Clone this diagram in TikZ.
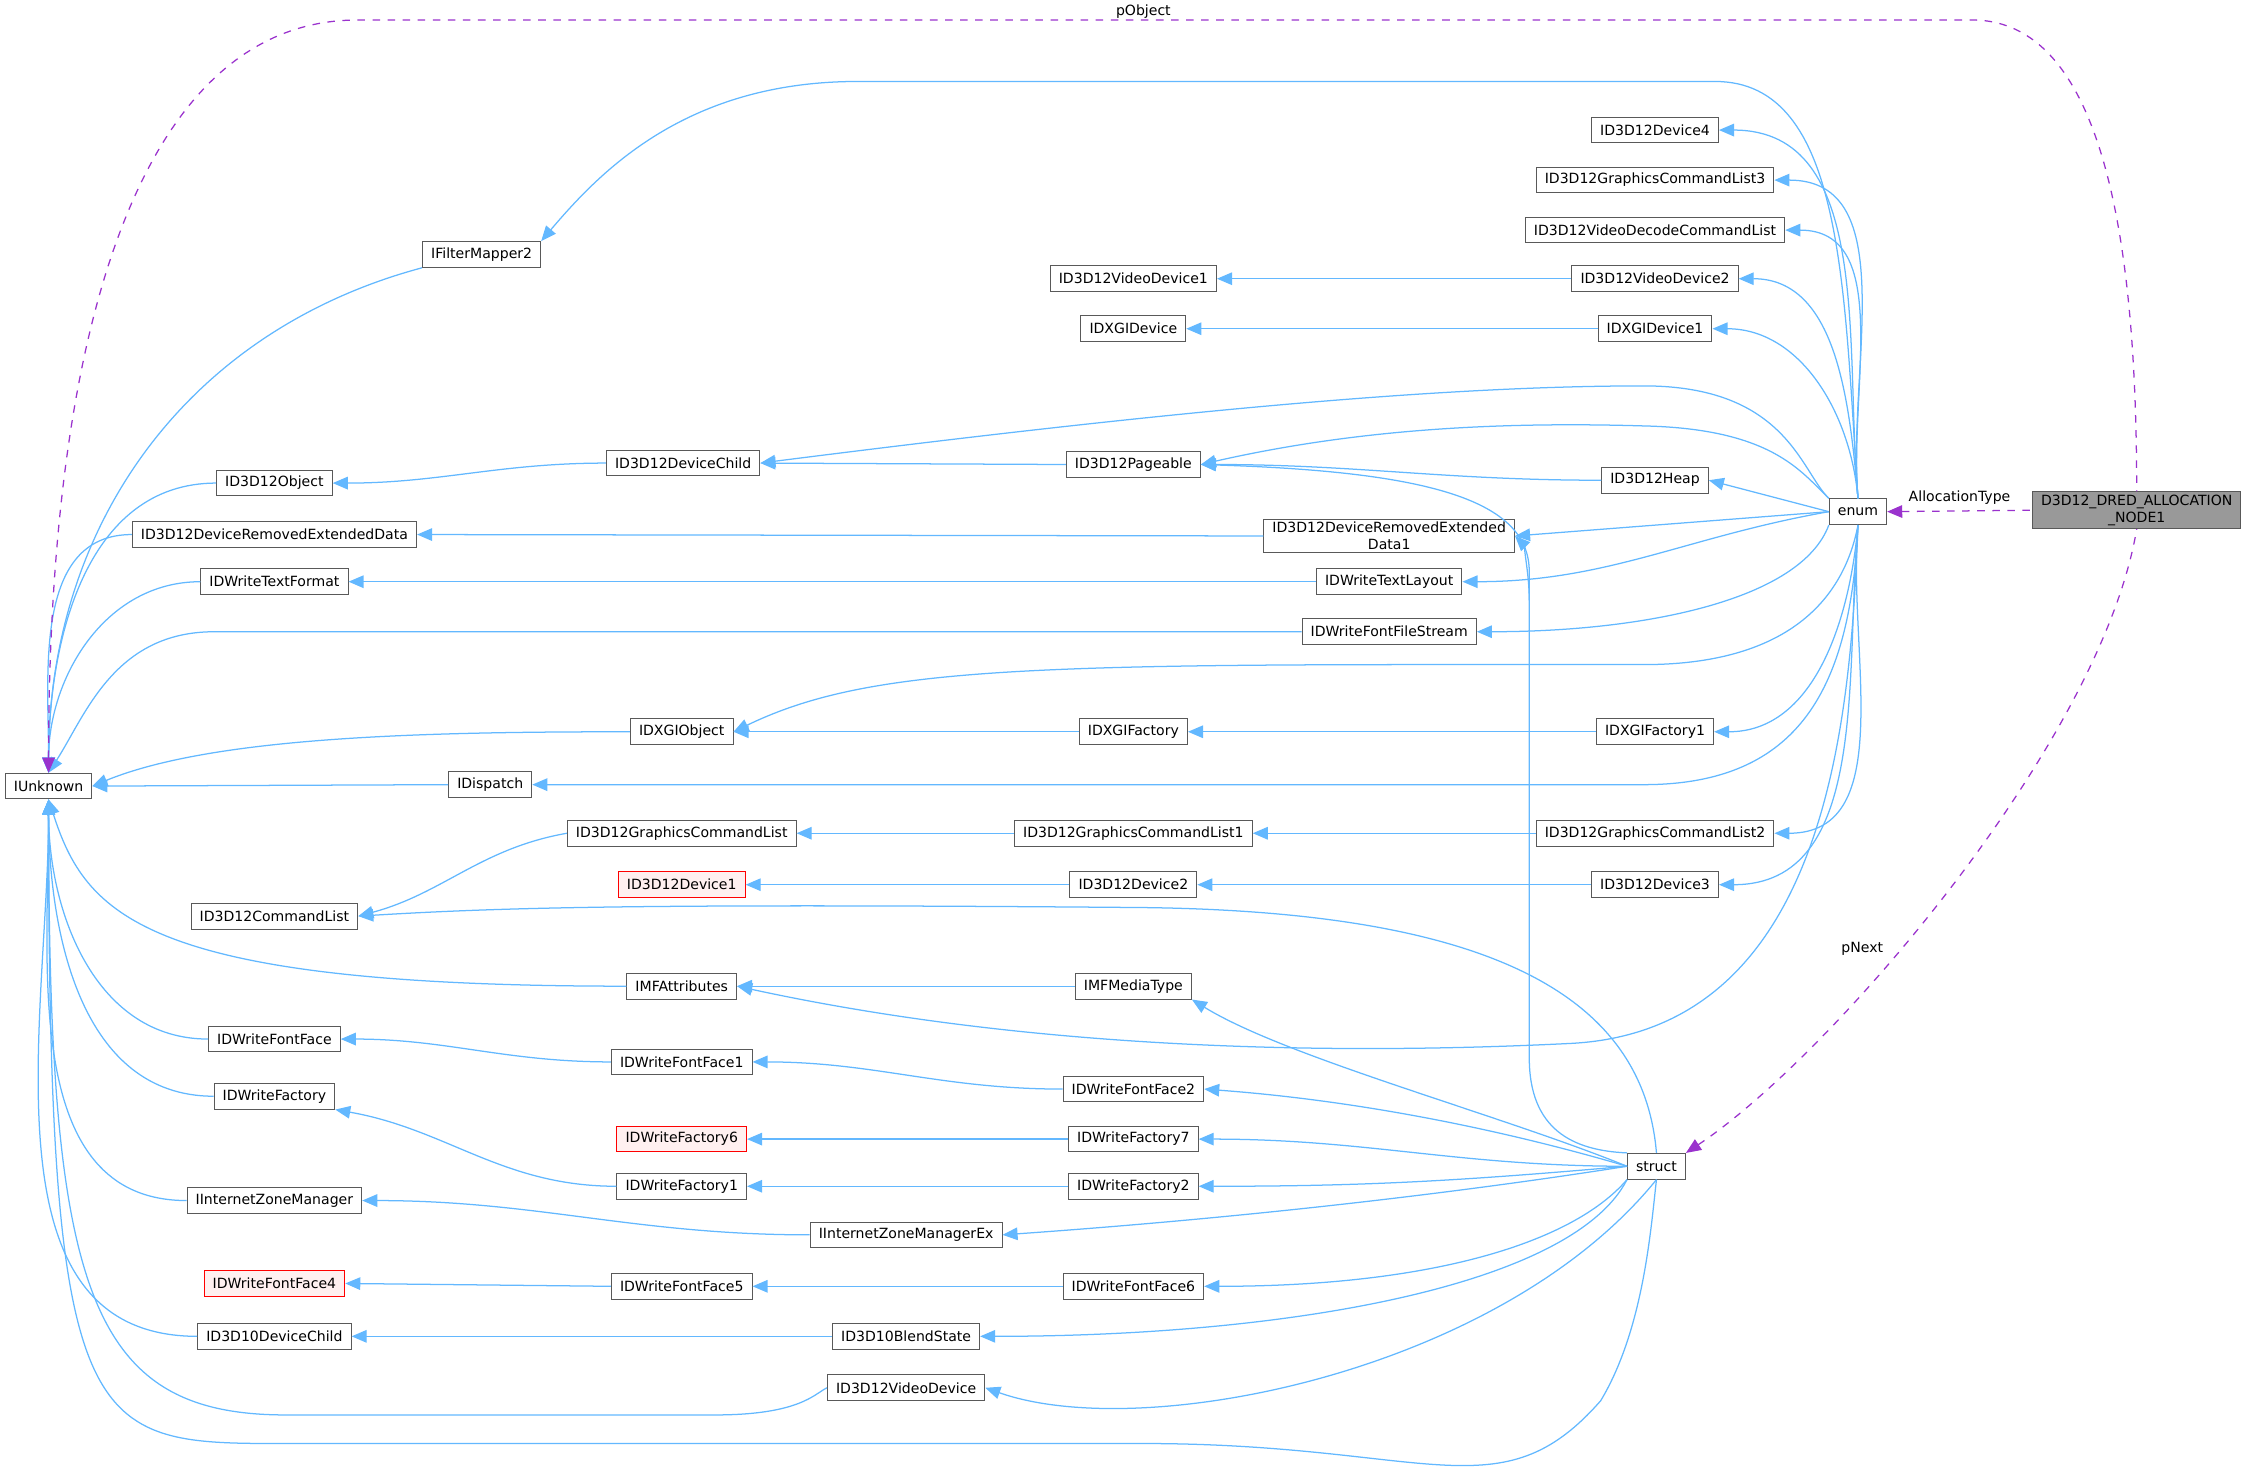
\documentclass[tikz,border=0pt]{standalone}
\usepackage{fontspec}
\setmainfont{DejaVu Sans}
\usetikzlibrary{arrows.meta}
\definecolor{eb}{HTML}{63B8FF}
\definecolor{pp}{HTML}{9A32CD}
\begin{document}
\begin{tikzpicture}[x=0.02cm,y=-0.02cm,
 n/.style={draw=black!65,fill=white,rectangle,inner xsep=0.12cm,inner ysep=0.04cm,minimum height=0.36cm,font=\fontsize{5.6}{6.8}\selectfont,align=center},
 r/.style={n,draw=red,fill=red!6},
 g/.style={n,fill=black!40},
 e/.style={draw=eb,line width=0.5pt,{Triangle[width=5pt,length=6pt]}-},
 p/.style={draw=pp,dashed,line width=0.5pt,{Triangle[width=5pt,length=6pt]}-},
 lb/.style={font=\fontsize{5.6}{6.8}\selectfont}]
\useasboundingbox (0,0) rectangle (1568,1029);
% nodes
\node[n] (IU) at (34,550) {IUnknown};
\node[n] (IFM) at (337,178) {IFilterMapper2};
\node[n] (Obj) at (192,338) {ID3D12Object};
\node[n] (DRE) at (192,374) {ID3D12DeviceRemovedExtendedData};
\node[n] (TF) at (192,407) {IDWriteTextFormat};
\node[n] (XO) at (477,512) {IDXGIObject};
\node[n] (Disp) at (343,549) {IDispatch};
\node[n] (CL) at (192,641) {ID3D12CommandList};
\node[n] (MFA) at (477,690) {IMFAttributes};
\node[n] (FF) at (192,727) {IDWriteFontFace};
\node[n] (Fac) at (192,767) {IDWriteFactory};
\node[n] (ZM) at (192,840) {IInternetZoneManager};
\node[r] (FF4) at (192,898) {IDWriteFontFace4};
\node[n] (DC10) at (192,935) {ID3D10DeviceChild};
\node[n] (DC) at (478,324) {ID3D12DeviceChild};
\node[n] (GCL) at (477,583) {ID3D12GraphicsCommandList};
\node[r] (D1) at (477,619) {ID3D12Device1};
\node[n] (FF1) at (477,743) {IDWriteFontFace1};
\node[r] (Fac6) at (477,797) {IDWriteFactory6};
\node[n] (Fac1) at (477,830) {IDWriteFactory1};
\node[n] (FF5) at (477,900) {IDWriteFontFace5};
\node[n] (ZMEx) at (634,864) {IInternetZoneManagerEx};
\node[n] (BS) at (634,935) {ID3D10BlendState};
\node[n] (VD) at (634,971) {ID3D12VideoDevice};
\node[n] (VD1) at (793,195) {ID3D12VideoDevice1};
\node[n] (XD) at (793,230) {IDXGIDevice};
\node[n] (Pag) at (793,325) {ID3D12Pageable};
\node[n] (XF) at (793,512) {IDXGIFactory};
\node[n] (GCL1) at (793,583) {ID3D12GraphicsCommandList1};
\node[n] (D2) at (793,619) {ID3D12Device2};
\node[n] (MT) at (793,690) {IMFMediaType};
\node[n] (FF2) at (793,762) {IDWriteFontFace2};
\node[n] (Fac7) at (793,797) {IDWriteFactory7};
\node[n] (Fac2) at (793,830) {IDWriteFactory2};
\node[n] (FF6) at (793,900) {IDWriteFontFace6};
\node[n] (DRE1) at (972,375) {ID3D12DeviceRemovedExtended\\Data1};
\node[n] (TL) at (972,407) {IDWriteTextLayout};
\node[n] (FFS) at (972,442) {IDWriteFontFileStream};
\node[n] (D4) at (1158,91) {ID3D12Device4};
\node[n] (GCL3) at (1158,126) {ID3D12GraphicsCommandList3};
\node[n] (VDCL) at (1158,161) {ID3D12VideoDecodeCommandList};
\node[n] (VD2) at (1158,195) {ID3D12VideoDevice2};
\node[n] (XD1) at (1158,230) {IDXGIDevice1};
\node[n] (Heap) at (1158,336) {ID3D12Heap};
\node[n] (XF1) at (1158,512) {IDXGIFactory1};
\node[n] (GCL2) at (1158,583) {ID3D12GraphicsCommandList2};
\node[n] (D3) at (1158,619) {ID3D12Device3};
\node[n] (enum) at (1300,358) {enum};
\node[n] (struct) at (1159,816) {struct};
\node[g] (D3D) at (1495,357) {D3D12\_DRED\_ALLOCATION\\\_NODE1};
% IUnknown edges
\draw[e] (IU.north) to[out=90,in=195] (IFM.south west);
\draw[e] (IU.north) to[out=90,in=180] (Obj.west);
\draw[e] (IU.north) to[out=90,in=180] (DRE.west);
\draw[e] (IU.north) to[out=90,in=180] (TF.west);
\draw[e] (IU.north) .. controls (60,500) and (80,442) .. (150,442) -- (FFS.west);
\draw[e] (IU.east) .. controls (150,515) and (300,512) .. (XO.west);
\draw[e] (IU.east) -- (Disp.west);
\draw[e] (IU.south) .. controls (60,640) and (100,690) .. (MFA.west);
\draw[e] (IU.south) to[out=-90,in=180] (FF.west);
\draw[e] (IU.south) to[out=-90,in=180] (Fac.west);
\draw[e] (IU.south) to[out=-90,in=180] (ZM.west);
\draw[e] (IU.south) to[out=-90,in=180] (DC10.west);
\draw[e] (IU.south) .. controls (34,900) and (60,990) .. (200,990) -- (500,990) .. controls (560,990) and (570,975) .. (VD.west);
\draw[e] (IU.south) .. controls (34,1010) and (60,1010) .. (200,1010) -- (800,1010) .. controls (1000,1010) and (1050,1060) .. (1120,980) .. controls (1150,930) and (1155,860) .. (struct.south);
% enum edges
\draw[e] (IFM.north east) .. controls (420,120) and (480,57) .. (600,57) -- (1200,57) .. controls (1290,57) and (1290,200) .. (enum.north);
\foreach \s in {D4,GCL3,VDCL,VD2,XD1} \draw[e] (\s.east) to[out=0,in=95] (enum.north);
\draw[e] (DC.east) .. controls (800,290) and (1000,270) .. (1150,270) .. controls (1250,270) and (1260,330) .. (enum.north west);
\draw[e] (Pag.east) .. controls (950,300) and (1050,295) .. (1150,298) .. controls (1240,300) and (1260,330) .. (enum.north west);
\draw[e] (Heap.east) -- (enum.west);
\draw[e] (DRE1.east) -- (enum.west);
\draw[e] (TL.east) to[out=0,in=190] (enum.west);
\draw[e] (FFS.east) .. controls (1150,442) and (1260,420) .. (enum.south west);
\draw[e] (XO.east) .. controls (600,470) and (700,465) .. (1000,465) -- (1150,465) .. controls (1250,465) and (1290,420) .. (enum.south);
\draw[e] (XF1.east) to[out=0,in=-95] (enum.south);
\draw[e] (Disp.east) -- (1150,549) .. controls (1260,549) and (1295,480) .. (enum.south);
\draw[e] (GCL2.east) to[out=0,in=-95] (enum.south);
\draw[e] (D3.east) to[out=0,in=-95] (enum.south);
\draw[e] (MFA.east) .. controls (700,730) and (900,740) .. (1100,730) .. controls (1280,720) and (1295,500) .. (enum.south);
% chains
\draw[e] (Obj.east) to[out=0,in=180] (DC.west);
\draw[e] (DC.east) -- (Pag.west);
\draw[e] (Pag.east) to[out=0,in=180] (Heap.west);
\draw[e] (DRE.east) -- (DRE1.west);
\draw[e] (TF.east) -- (TL.west);
\draw[e] (XO.east) -- (XF.west);
\draw[e] (XF.east) -- (XF1.west);
\draw[e] (VD1.east) -- (VD2.west);
\draw[e] (XD.east) -- (XD1.west);
\draw[e] (CL.east) to[out=15,in=190] (GCL.west);
\draw[e] (GCL.east) -- (GCL1.west);
\draw[e] (GCL1.east) -- (GCL2.west);
\draw[e] (D1.east) -- (D2.west);
\draw[e] (D2.east) -- (D3.west);
\draw[e] (MFA.east) -- (MT.west);
\draw[e] (FF.east) to[out=0,in=180] (FF1.west);
\draw[e] (FF1.east) to[out=0,in=180] (FF2.west);
\draw[e] (Fac6.east) -- (Fac7.west);
\draw[e] (Fac.south east) to[out=-10,in=180] (Fac1.west);
\draw[e] (Fac1.east) -- (Fac2.west);
\draw[e] (ZM.east) to[out=0,in=180] (ZMEx.west);
\draw[e] (FF4.east) -- (FF5.west);
\draw[e] (FF5.east) -- (FF6.west);
\draw[e] (DC10.east) -- (BS.west);
% struct edges
\draw[e] (Pag.east) .. controls (1000,330) and (1070,350) .. (1070,400) -- (1070,740) .. controls (1070,790) and (1100,805) .. (struct.north west);
\draw[e] (DRE1.east) .. controls (1065,380) and (1070,400) .. (1070,420);
\draw[e] (CL.east) .. controls (350,635) and (450,632) .. (800,635) .. controls (1050,638) and (1150,700) .. (struct.north);
\draw[e] (MT.south east) .. controls (900,740) and (1050,780) .. (struct.west);
\draw[e] (FF2.east) .. controls (950,770) and (1050,790) .. (struct.west);
\draw[e] (Fac7.east) to[out=0,in=180] (struct.west);
\draw[e] (Fac2.east) to[out=0,in=185] (struct.west);
\draw[e] (ZMEx.east) .. controls (900,850) and (1050,830) .. (struct.west);
\draw[e] (FF6.east) .. controls (1000,900) and (1100,870) .. (struct.south west);
\draw[e] (BS.east) .. controls (900,935) and (1100,900) .. (struct.south west);
\draw[e] (VD.east) .. controls (800,1010) and (1050,960) .. (struct.south);
% purple
\draw[p] (enum.east) -- (D3D.west) node[midway,above,lb,yshift=-1pt] {AllocationType};
\draw[p] (struct.north east) .. controls (1280,740) and (1470,520) .. (D3D.south);
\node[lb] (pn) at (1303,664) {pNext};
\draw[p] (IU.north) .. controls (34,200) and (110,14) .. (250,14) -- (1380,14) .. controls (1480,14) and (1495,200) .. (D3D.north);
\node[lb] (po) at (800,8) {pObject};
\end{tikzpicture}
\end{document}
